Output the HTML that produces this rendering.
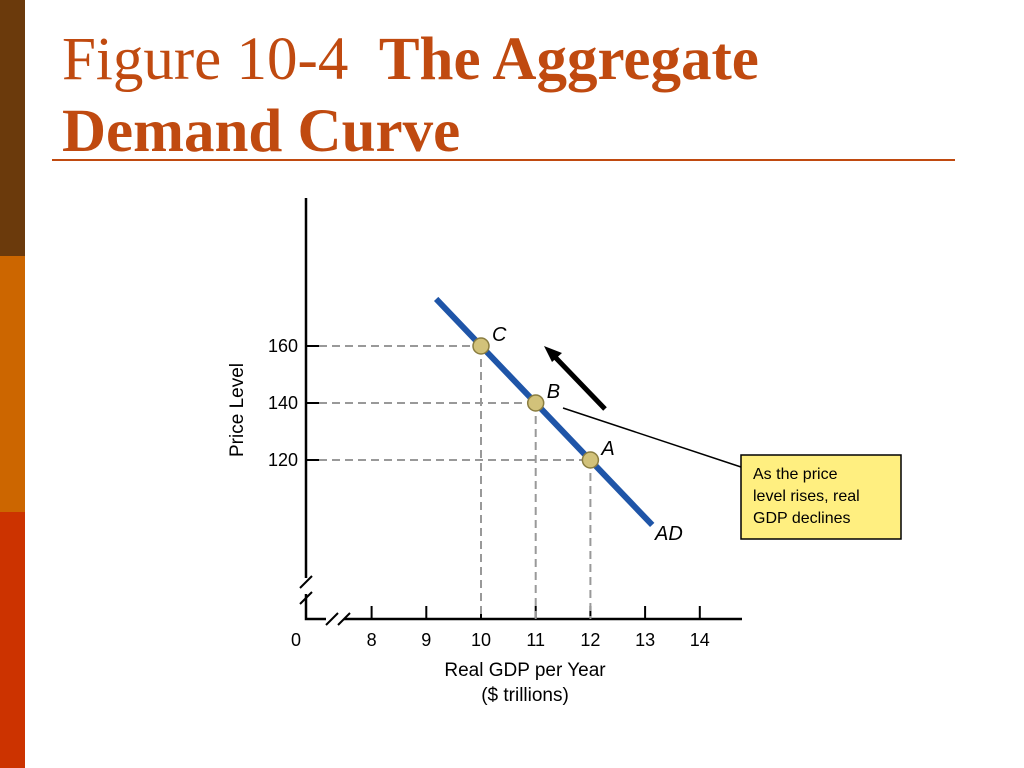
<!DOCTYPE html>
<html><head><meta charset="utf-8"><style>
body{margin:0;width:1024px;height:768px;background:#fff;position:relative;overflow:hidden;font-family:"Liberation Sans",sans-serif}
.bar{position:absolute;left:0;width:25px}
#title{position:absolute;left:62px;top:24px;font-family:"Liberation Serif",serif;font-size:61px;line-height:72px;color:#c04a10;white-space:nowrap}
#rule{position:absolute;left:52px;top:159px;width:903px;height:2px;background:#c04a10}
</style></head><body>
<div class="bar" style="top:0;height:256px;background:#6b3a0c"></div>
<div class="bar" style="top:256px;height:256px;background:#cc6600"></div>
<div class="bar" style="top:512px;height:256px;background:#cc3300"></div>
<div id="title">Figure 10-4&nbsp; <b>The Aggregate<br>Demand Curve</b></div>
<div id="rule"></div>
<svg id="chart" width="1024" height="768" style="position:absolute;left:0;top:0" font-family="Liberation Sans, sans-serif"></svg>
<script>
const xTicks=[8,9,10,11,12,13,14];
const yTicks=[120,140,160];
const pointLabels=['A','B','C'];
const pointGDP=[12,11,10];
const pointPrice=[120,140,160];
const curveGDP=[9.18,13.13];
const curvePrice=[176.5,97.2];
const X=v=>481+(v-10)*54.7;
const Y=v=>460-(v-120)*2.85;
const svg=document.getElementById('chart');
const NS='http://www.w3.org/2000/svg';
function mk(t,a,p){const e=document.createElementNS(NS,t);for(const k in a)e.setAttribute(k,a[k]);(p||svg).appendChild(e);return e;}
let e;
e=mk('path',{d:'M306 198 V578 M306 594 V619 H326 M344 619 H742',stroke:'#000','stroke-width':2.5,fill:'none'});


e=mk('path',{d:'M300 588 L312 576 M300 604 L312 592 M326 625 L338 613 M338 625 L350 613',stroke:'#000','stroke-width':2,fill:'none'});


e=mk('text',{x:296,y:646,'font-size':18,'text-anchor':'middle'});e.textContent='0';


xTicks.forEach(v=>{
 const t=mk('line',{x1:X(v),x2:X(v),y1:606,y2:619,stroke:'#000','stroke-width':2});
 
 
 const l=mk('text',{x:X(v),y:646,'font-size':18,'text-anchor':'middle'});l.textContent=v;
 
 
});
yTicks.forEach(v=>{
 const t=mk('line',{x1:306,x2:319,y1:Y(v),y2:Y(v),stroke:'#000','stroke-width':2});
 
 
 const l=mk('text',{x:298,y:Y(v)+6,'font-size':18,'text-anchor':'end'});l.textContent=v;
 
 
});
e=mk('text',{x:0,y:0,'font-size':19,'text-anchor':'middle',transform:'translate(243,410) rotate(-90)'});e.textContent='Price Level';


e=mk('text',{x:525,y:676,'font-size':19,'text-anchor':'middle'});e.textContent='Real GDP per Year';


e=mk('text',{x:525,y:701,'font-size':19,'text-anchor':'middle'});e.textContent='($ trillions)';


pointGDP.forEach((g,i)=>{
 const d=mk('path',{d:`M319 ${Y(pointPrice[i])} H${X(g)} M${X(g)} ${Y(pointPrice[i])} V619`,stroke:'#999','stroke-width':2,'stroke-dasharray':'8 5',fill:'none'});
 
 
});
e=mk('line',{x1:X(curveGDP[0]),y1:Y(curvePrice[0]),x2:X(curveGDP[1]),y2:Y(curvePrice[1]),stroke:'#1f55a8','stroke-width':6});


e=mk('text',{x:655,y:540,'font-size':20,'font-style':'italic'});e.textContent='AD';


pointGDP.forEach((g,i)=>{
 const c=mk('circle',{cx:X(g),cy:Y(pointPrice[i]),r:8,fill:'#d2c27a',stroke:'#8a7d40','stroke-width':1.5});
 
 
 const l=mk('text',{x:X(g)+11,y:Y(pointPrice[i])-5,'font-size':20,'font-style':'italic'});l.textContent=pointLabels[i];
 
 
});
e=mk('path',{d:'M605 409 L555 357',stroke:'#000','stroke-width':5,fill:'none'});


e=mk('polygon',{points:'544,346 562,353 552,362',fill:'#000'});


e=mk('line',{x1:563,y1:408,x2:741,y2:467,stroke:'#000','stroke-width':1.5});


e=mk('rect',{x:741,y:455,width:160,height:84,fill:'#ffef80',stroke:'#000','stroke-width':1.5});


['As the price','level rises, real','GDP declines'].forEach((s,i)=>{
 const t=mk('text',{x:753,y:479+i*22,'font-size':16});t.textContent=s;
 
 
});
</script>
</body></html>
